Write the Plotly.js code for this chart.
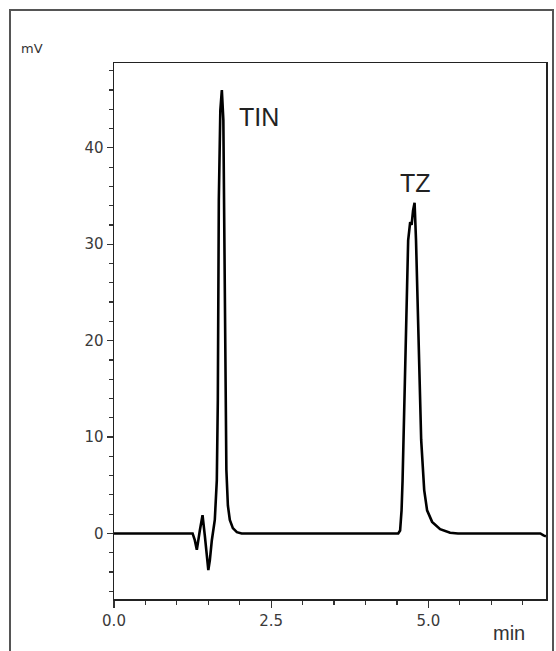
<!DOCTYPE html>
<html>
<head>
<meta charset="utf-8">
<script src="https://cdn.plot.ly/plotly-3.0.1.min.js"></script>
<style>html,body{margin:0;padding:0;background:#fff;}#chart{width:556px;height:651px;}</style>
</head>
<body>
<div id="chart"></div>
<script>
// Retention time (min)
const timeMin = [0, 1.0, 1.25, 1.285, 1.317, 1.365, 1.408, 1.444, 1.476, 1.50, 1.524, 1.556, 1.603, 1.635, 1.651, 1.667, 1.691, 1.715, 1.739, 1.755, 1.771, 1.787, 1.811, 1.842, 1.890, 1.954, 2.03, 3.0, 4.0, 4.52, 4.55, 4.573, 4.589, 4.605, 4.629, 4.653, 4.678, 4.710, 4.733, 4.756, 4.780, 4.803, 4.828, 4.852, 4.885, 4.933, 4.979, 5.059, 5.186, 5.345, 5.47, 6.0, 6.5, 6.78, 6.83, 6.87];
// Detector signal (mV)
const signalMV = [0, 0, 0, -0.7, -1.7, 0.3, 1.9, -0.2, -2.8, -3.8, -2.8, -0.7, 1.4, 5.5, 13.8, 34.6, 43.9, 46.0, 42.9, 29.4, 13.8, 6.6, 2.9, 1.4, 0.55, 0.13, 0, 0, 0, 0, 0.3, 2.4, 5.5, 9.7, 15.9, 24.2, 30.4, 32.3, 32.0, 33.5, 34.3, 30.4, 24.2, 15.9, 9.7, 4.5, 2.4, 1.2, 0.45, 0.08, 0, 0, 0, 0, -0.2, -0.3];
// Peak labels
const peakNames = ["TIN", "TZ"];
const peakLabelX = [1.96, 4.80];
const peakLabelY = [43.2, 36.4];
// Axis ticks
const xTickVals = [0, 2.5, 5.0];
const xTickText = ["0.0", "2.5", "5.0"];
const yTickVals = [0, 10, 20, 30, 40];

const trace = {
  x: timeMin, y: signalMV, type: 'scatter', mode: 'lines',
  line: {color: '#000', width: 2.6}, hoverinfo: 'skip'
};

const annotations = peakNames.map((n, i) => ({
  x: peakLabelX[i], y: peakLabelY[i], xref: 'x', yref: 'y', text: n, showarrow: false,
  xanchor: i === 0 ? 'left' : 'center', yanchor: 'middle',
  font: {family: 'Liberation Sans, Arial, sans-serif', size: 25, color: '#222'}
}));
annotations.push({
  x: (19 - 114) / 432, y: (599 - 49) / 536, xref: 'paper', yref: 'paper', text: 'mV', showarrow: false,
  xanchor: 'left', yanchor: 'middle', font: {family: 'DejaVu Sans, sans-serif', size: 13, color: '#333'}
});
annotations.push({
  x: (509 - 114) / 432, y: (599 - 633) / 536, xref: 'paper', yref: 'paper', text: 'min', showarrow: false,
  xanchor: 'center', yanchor: 'middle', font: {family: 'Liberation Sans, Arial, sans-serif', size: 20, color: '#333'}
});

const layout = {
  width: 556, height: 651,
  margin: {l: 114, r: 10, t: 63, b: 52},
  paper_bgcolor: '#fff', plot_bgcolor: '#fff',
  showlegend: false,
  font: {family: 'DejaVu Sans, sans-serif', size: 15, color: '#333'},
  xaxis: {
    range: [0, 6.87], showgrid: false, zeroline: false,
    showline: true, linecolor: '#222', linewidth: 1.5, mirror: true,
    ticks: 'outside', ticklen: 7, tickwidth: 1.3, tickcolor: '#333',
    tickvals: xTickVals, ticktext: xTickText,
    tickfont: {family: 'DejaVu Sans, sans-serif', size: 15, color: '#3a3a3a'},
    minor: {dtick: 0.5, ticks: 'outside', ticklen: 4, tickwidth: 1.2, tickcolor: '#333', showgrid: false}
  },
  yaxis: {
    range: [-6.8, 48.8], showgrid: false, zeroline: false,
    showline: true, linecolor: '#222', linewidth: 1.5, mirror: true,
    ticks: 'outside', ticklen: 6, tickwidth: 1.3, tickcolor: '#333',
    tickvals: yTickVals,
    tickfont: {family: 'DejaVu Sans, sans-serif', size: 15, color: '#3a3a3a'},
    minor: {dtick: 2, ticks: 'outside', ticklen: 4, tickwidth: 1.2, tickcolor: '#333', showgrid: false}
  },
  shapes: [{
    type: 'rect', xref: 'paper', yref: 'paper',
    x0: (10 - 114) / 432, x1: (553 - 114) / 432,
    y0: (599 - 665) / 536, y1: (599 - 10) / 536,
    line: {color: '#555', width: 2}, fillcolor: 'rgba(0,0,0,0)', layer: 'below'
  }],
  annotations: annotations
};

Plotly.newPlot('chart', [trace], layout, {displayModeBar: false, staticPlot: true});
</script>
</body>
</html>
